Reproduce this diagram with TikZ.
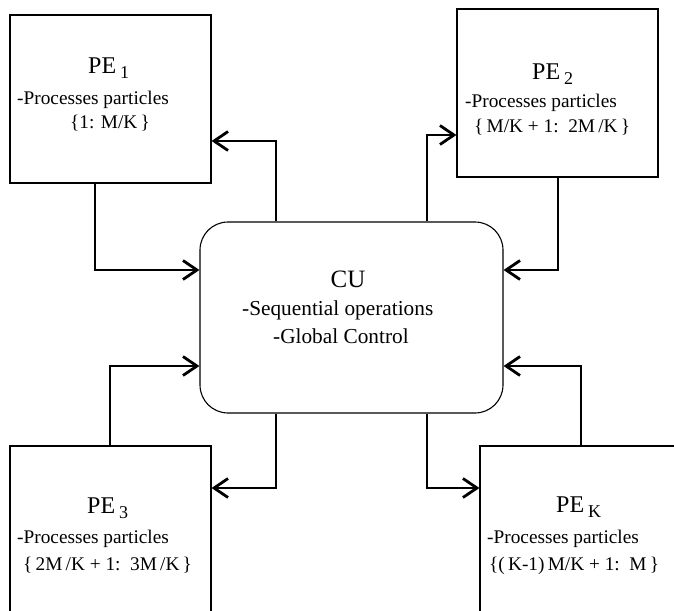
\documentclass[tikz,border=0pt]{standalone}
\usepackage{fontspec}
\setmainfont{Liberation Serif}
\usetikzlibrary{arrows.meta}
\newcommand{\pesub}[1]{\raisebox{-5pt}{\fontsize{18}{18}\selectfont #1}}
\tikzset{
  pebox/.style={draw, line width=1.1pt, rectangle, inner sep=0pt},
  cubox/.style={draw, line width=1.1pt, rectangle, rounded corners=28pt, inner sep=0pt, minimum width=303pt, minimum height=191pt},
  conn/.style={line width=2.8pt, -{Straight Barb[length=14pt,width=19pt,line width=2.8pt]}},
  ttl/.style={anchor=base west, inner sep=0pt, font=\fontsize{24}{24}\selectfont},
  cutl/.style={anchor=base, inner sep=0pt, font=\fontsize{25}{25}\selectfont},
  body/.style={anchor=base west, inner sep=0pt, font=\fontsize{19.3}{19.3}\selectfont},
  cubody/.style={anchor=base west, inner sep=0pt, font=\fontsize{21.3}{21.3}\selectfont},
}
\begin{document}
\begin{tikzpicture}[x=1pt,y=-1pt]
\clip (0,0) rectangle (674,610);
\fill[white] (0,0) rectangle (674,610);
% boxes
\node[pebox, minimum width=201pt, minimum height=168pt] (pe1) at (110.5,99) {};
\node[pebox, minimum width=201pt, minimum height=168pt] (pe2) at (557.5,93) {};
\node[pebox, minimum width=201pt, minimum height=214pt] (pe3) at (110.5,553) {};
\node[pebox, minimum width=240pt, minimum height=214pt] (pek) at (600,553) {};
\node[cubox] (cu) at (351.5,317.5) {};
% texts
\node[ttl] (t1a) at (88,74) {PE\,\pesub{1}};
\node[body] (t1b) at (17,104) {-Processes particles};
\node[body] (t1c) at (70,128) {\{1: M/K\,\}};
\node[ttl] (t2a) at (532,79) {PE\,\pesub{2}};
\node[body] (t2b) at (465,107) {-Processes particles};
\node[body] (t2c) at (474,132) {\{\,M/K + 1:\ \ 2M\,/K\,\}};
\node[ttl] (t3a) at (87,513) {PE\,\pesub{3}};
\node[body] (t3b) at (17,543) {-Processes particles};
\node[body] (t3c) at (23,570) {\{\,2M\,/K + 1:\ \ 3M\,/K\,\}};
\node[ttl] (tka) at (556,512) {PE\,\pesub{K}};
\node[body] (tkb) at (487,543) {-Processes particles};
\node[body] (tkc) at (489,570) {\{(\,K-1)\,M/K + 1:\ \ M\,\}};
\node[cutl] (tca) at (348,287) {CU};
\node[cubody] (tcb) at (242,315) {-Sequential operations};
\node[cubody] (tcc) at (273,343) {-Global Control};
% bend points
\coordinate (b1) at (95,270);
\coordinate (b2) at (276,141);
\coordinate (b3) at (427,135);
\coordinate (b4) at (558,270);
\coordinate (b5) at (110,366);
\coordinate (b6) at (276,488);
\coordinate (b7) at (427,488);
\coordinate (b8) at (581,366);
% connectors
\draw[conn] (pe1.south -| b1) -- (b1) -- (cu.west |- b1);
\draw[conn] (cu.north -| b2) -- (b2) -- (pe1.east |- b2);
\draw[conn] (cu.north -| b3) -- (b3) -- (pe2.west |- b3);
\draw[conn] (pe2.south -| b4) -- (b4) -- (cu.east |- b4);
\draw[conn] (pe3.north -| b5) -- (b5) -- (cu.west |- b5);
\draw[conn] (cu.south -| b6) -- (b6) -- (pe3.east |- b6);
\draw[conn] (cu.south -| b7) -- (b7) -- (pek.west |- b7);
\draw[conn] (pek.north -| b8) -- (b8) -- (cu.east |- b8);
\end{tikzpicture}
\end{document}
